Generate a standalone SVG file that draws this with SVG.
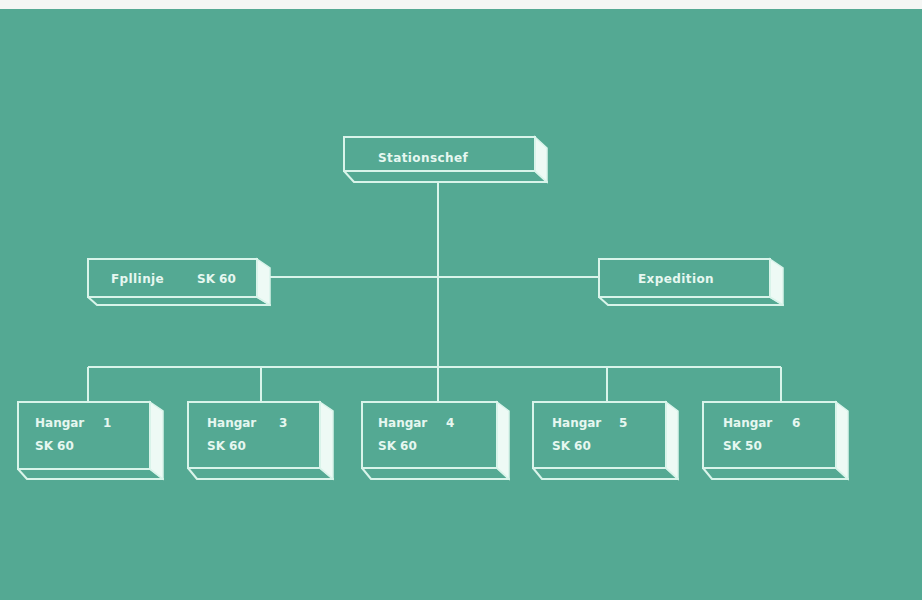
<svg xmlns="http://www.w3.org/2000/svg" width="922" height="600" viewBox="0 0 922 600">
<style>
.ln{stroke:#d9f4ea;stroke-width:2;fill:none}
.fr{stroke:#d9f4ea;stroke-width:2;fill:none}
.side{stroke:#d9f4ea;stroke-width:1.5;fill:#eefaf5}
.bot{stroke:#d9f4ea;stroke-width:2;fill:none;stroke-linejoin:round}
text{font-family:"DejaVu Sans",Verdana,sans-serif;font-weight:bold;font-size:12px;fill:#e6f7f0}
</style>
<rect x="0" y="0" width="922" height="600" fill="#54a993"/>
<rect x="0" y="0" width="922" height="9" fill="#f4f6f4"/>
<g id="connectors">
<line class="ln" x1="438" y1="183" x2="438" y2="367"/>
<line class="ln" x1="270" y1="277" x2="599" y2="277"/>
<line class="ln" x1="88" y1="367" x2="781" y2="367"/>
<line class="ln" x1="88" y1="367" x2="88" y2="402"/>
<line class="ln" x1="261" y1="367" x2="261" y2="402"/>
<line class="ln" x1="438" y1="367" x2="438" y2="402"/>
<line class="ln" x1="607" y1="367" x2="607" y2="402"/>
<line class="ln" x1="781" y1="367" x2="781" y2="402"/>
</g>
<g id="stationschef">
<polygon class="bot" points="344,171 354,182 547,182 535,171"/>
<polygon class="side" points="535,137 547,148 547,182 535,171"/>
<rect class="fr" x="344" y="137" width="191" height="34"/>
<text x="378" y="162" letter-spacing="0.4">Stationschef</text>
</g>
<g id="fpllinje">
<polygon class="bot" points="88,297 97,305 270,305 257,297"/>
<polygon class="side" points="257,259 270,268 270,305 257,297"/>
<rect class="fr" x="88" y="259" width="169" height="38"/>
<text x="111" y="283" letter-spacing="0.4">Fpllinje</text>
<text x="197" y="283">SK 60</text>
</g>
<g id="expedition">
<polygon class="bot" points="599,297 608,305 783,305 770,297"/>
<polygon class="side" points="770,259 783,268 783,305 770,297"/>
<rect class="fr" x="599" y="259" width="171" height="38"/>
<text x="638" y="283" letter-spacing="0.4">Expedition</text>
</g>
<g id="hangar1">
<polygon class="bot" points="18,469 27,479 163,479 150,469"/>
<polygon class="side" points="150,402 163,411 163,479 150,469"/>
<rect class="fr" x="18" y="402" width="132" height="67"/>
<text x="35" y="427">Hangar</text><text x="103" y="427">1</text>
<text x="35" y="450">SK 60</text>
</g>
<g id="hangar3">
<polygon class="bot" points="188,468 197,479 333,479 320,468"/>
<polygon class="side" points="320,402 333,411 333,479 320,468"/>
<rect class="fr" x="188" y="402" width="132" height="66"/>
<text x="207" y="427">Hangar</text><text x="279" y="427">3</text>
<text x="207" y="450">SK 60</text>
</g>
<g id="hangar4">
<polygon class="bot" points="362,468 371,479 509,479 497,468"/>
<polygon class="side" points="497,402 509,411 509,479 497,468"/>
<rect class="fr" x="362" y="402" width="135" height="66"/>
<text x="378" y="427">Hangar</text><text x="446" y="427">4</text>
<text x="378" y="450">SK 60</text>
</g>
<g id="hangar5">
<polygon class="bot" points="533,468 542,479 678,479 666,468"/>
<polygon class="side" points="666,402 678,411 678,479 666,468"/>
<rect class="fr" x="533" y="402" width="133" height="66"/>
<text x="552" y="427">Hangar</text><text x="619" y="427">5</text>
<text x="552" y="450">SK 60</text>
</g>
<g id="hangar6">
<polygon class="bot" points="703,468 712,479 848,479 836,468"/>
<polygon class="side" points="836,402 848,411 848,479 836,468"/>
<rect class="fr" x="703" y="402" width="133" height="66"/>
<text x="723" y="427">Hangar</text><text x="792" y="427">6</text>
<text x="723" y="450">SK 50</text>
</g>
</svg>
